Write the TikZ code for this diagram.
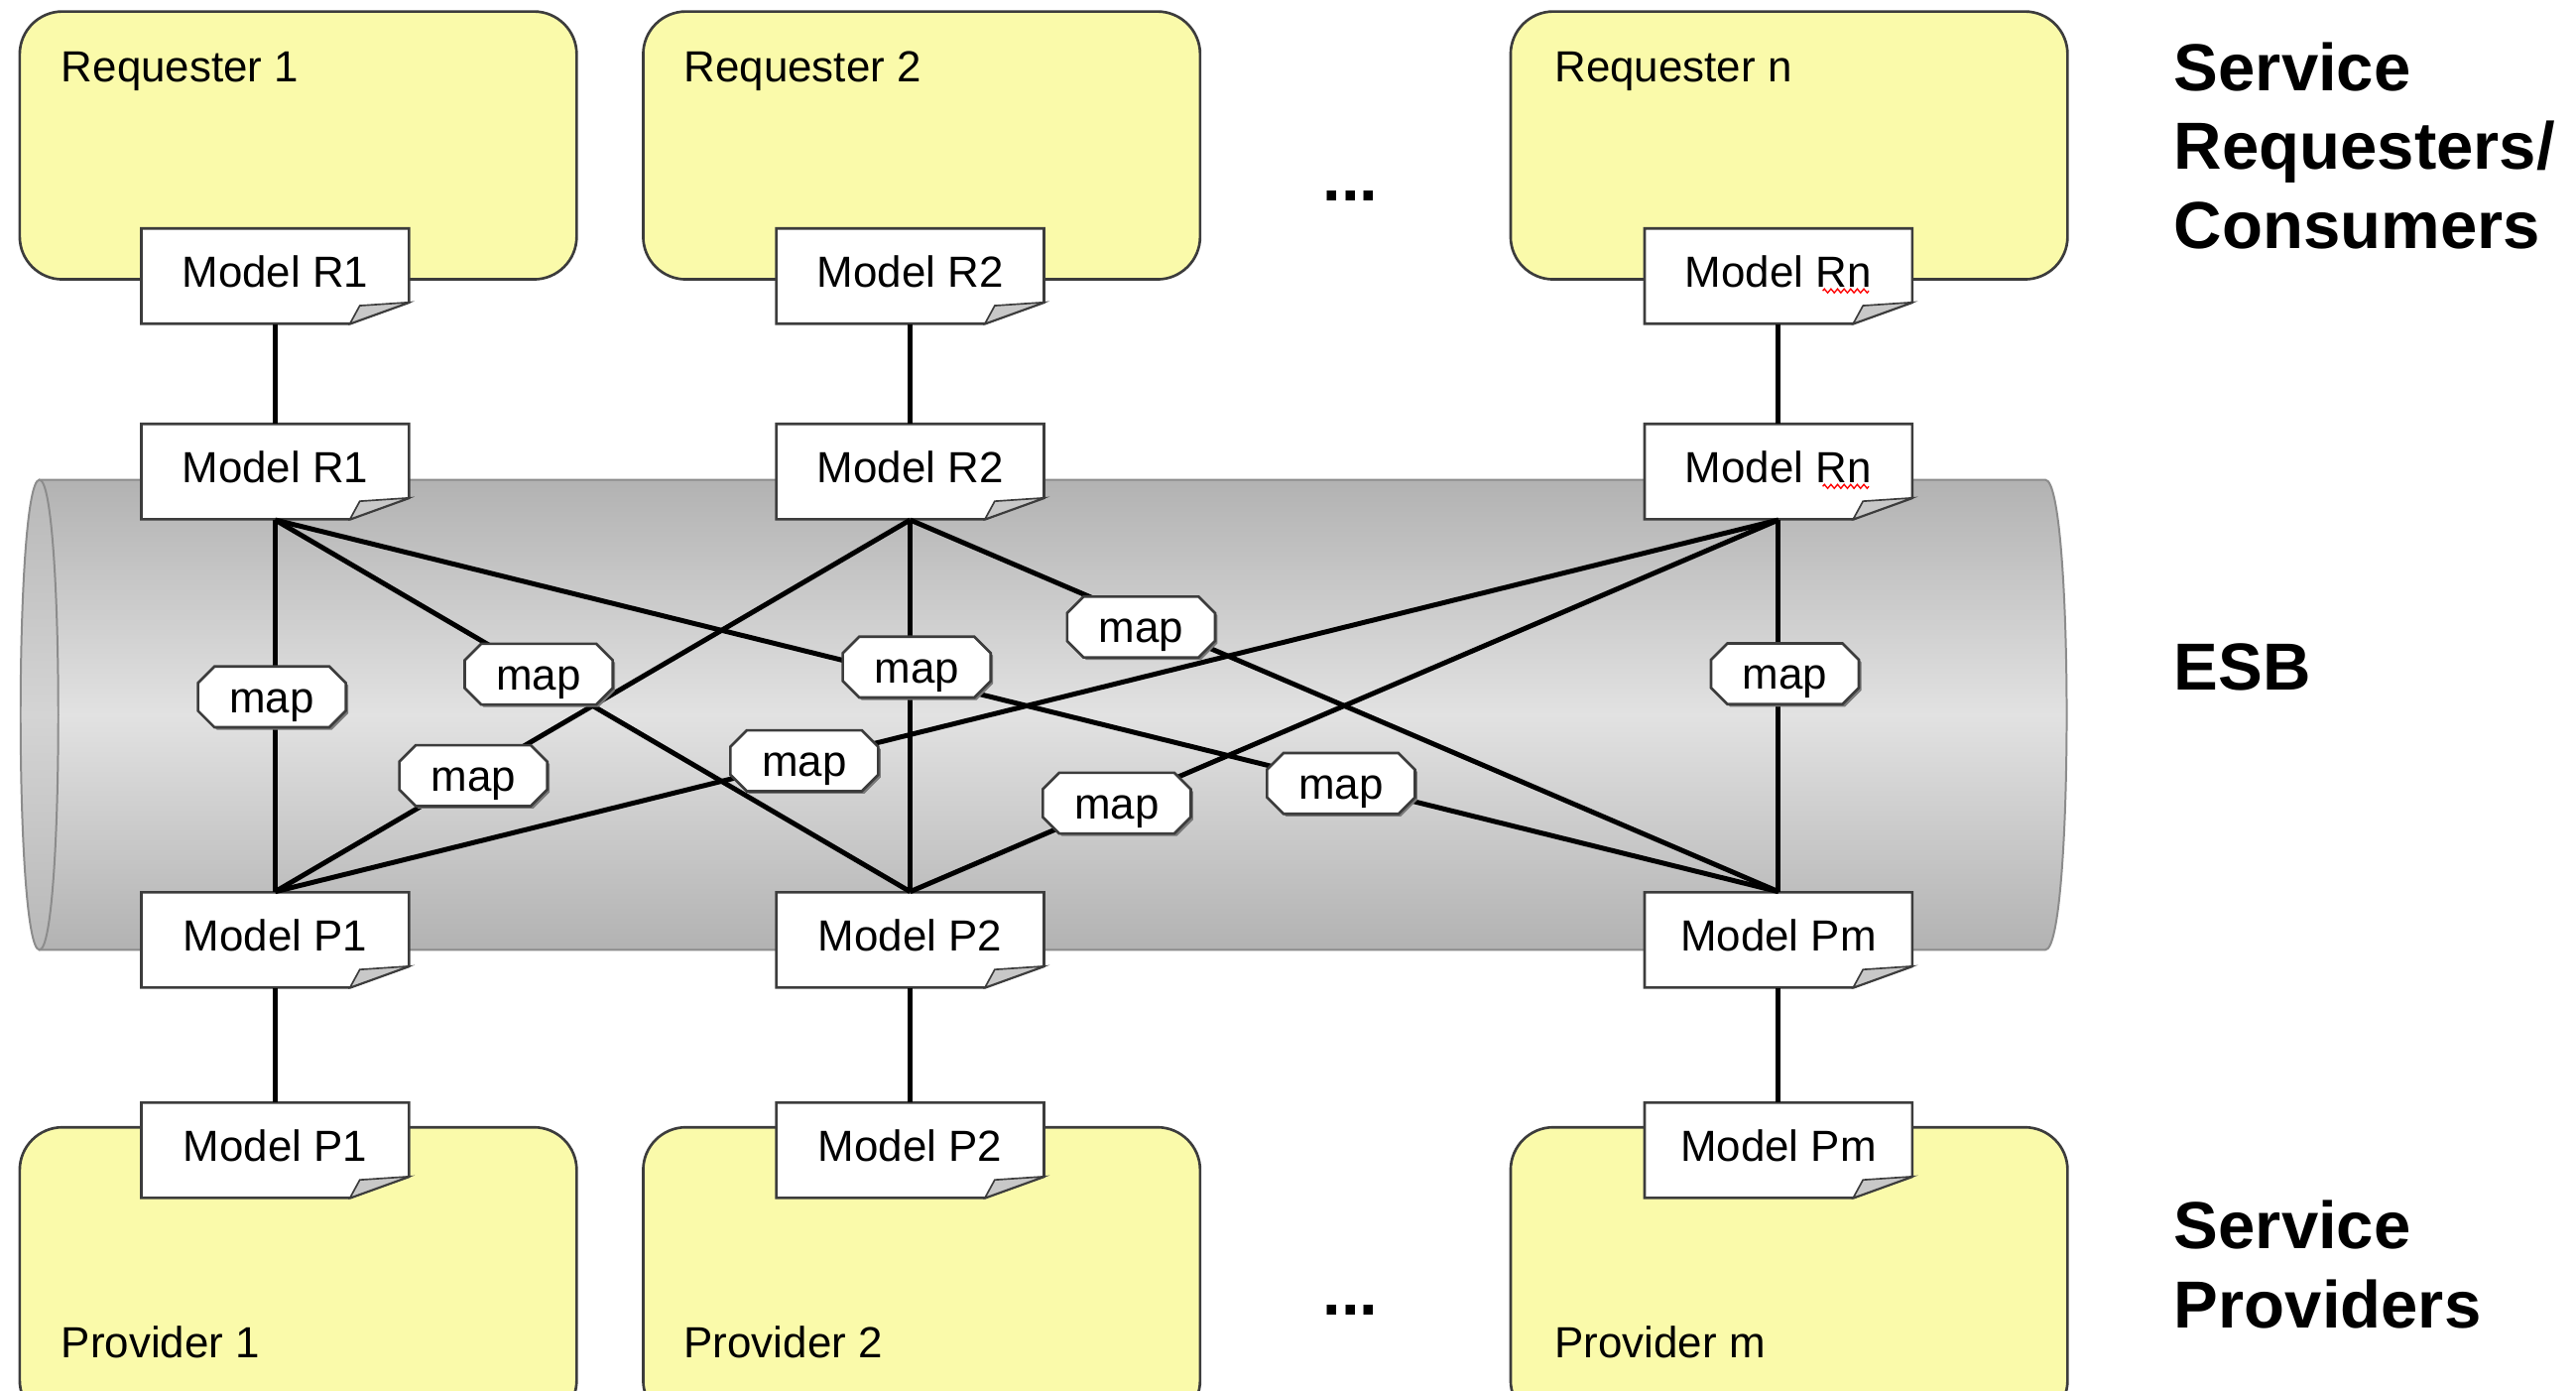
\documentclass[tikz,border=0pt]{standalone}
\usepackage{fontspec}
\setmainfont{Liberation Sans}
\usetikzlibrary{calc,decorations.pathmorphing}
\definecolor{boxyellow}{RGB}{250,250,170}
\definecolor{edgegray}{RGB}{60,60,60}
\definecolor{cyledge}{RGB}{140,140,140}
\definecolor{cyldark}{RGB}{178,178,178}
\definecolor{cyllight}{RGB}{226,226,226}
\definecolor{capdark}{RGB}{184,184,184}
\definecolor{caplight}{RGB}{212,212,212}
\definecolor{foldgray}{RGB}{200,200,200}
\definecolor{shadowgray}{RGB}{120,120,120}
\newcommand{\mainsz}{\fontsize{13.25pt}{16pt}\selectfont}
\newcommand{\bigsz}{\fontsize{20.25pt}{24pt}\selectfont\bfseries}
\newcommand{\ModelNote}[3]{%
  \filldraw[noteline] ($(#2)+(-81.5,-29)$) -- ($(#2)+(81.5,-29)$) -- ($(#2)+(81.5,16)$) -- ($(#2)+(45.5,29)$) -- ($(#2)+(-81.5,29)$) -- cycle;
  \filldraw[foldline] ($(#2)+(45.5,29)$) -- ($(#2)+(81.5,16)$) -- ($(#2)+(51.5,18)$) -- cycle;
  \node[notebox] (#1) at (#2) {#3};%
}
% name, centre
\newcommand{\MapNode}[2]{%
  \coordinate (#1c) at #2;
  \fill[shadowgray] ($(#1c)+(-43.5,-7)$) -- ($(#1c)+(-33.5,-17)$) -- ($(#1c)+(36.5,-17)$) -- ($(#1c)+(46.5,-7)$) -- ($(#1c)+(46.5,10)$) -- ($(#1c)+(36.5,20)$) -- ($(#1c)+(-33.5,20)$) -- ($(#1c)+(-43.5,10)$) -- cycle;
  \filldraw[mapline] ($(#1c)+(-45,-8.5)$) -- ($(#1c)+(-35,-18.5)$) -- ($(#1c)+(35,-18.5)$) -- ($(#1c)+(45,-8.5)$) -- ($(#1c)+(45,8.5)$) -- ($(#1c)+(35,18.5)$) -- ($(#1c)+(-35,18.5)$) -- ($(#1c)+(-45,8.5)$) -- cycle;
  \node[maptext] (#1) at (#1c) {map};%
}
\begin{document}
\begin{tikzpicture}[x=0.5pt,y=-0.5pt,
  ybox/.style={draw=edgegray, line width=0.8pt, fill=boxyellow, rounded corners=13pt, minimum width=169.5pt, inner sep=0pt},
  notebox/.style={minimum width=81.5pt, minimum height=29pt, inner sep=0pt, font=\mainsz, text height=9.5pt, text depth=3pt},
  noteline/.style={draw=edgegray, line width=0.8pt, fill=white},
  foldline/.style={draw=edgegray, line width=0.5pt, fill=foldgray},
  mapline/.style={draw=edgegray, line width=0.8pt, fill=white},
  maptext/.style={inner sep=0pt, font=\mainsz, text height=9.5pt, text depth=0pt},
  conn/.style={line width=1.5pt, black},
  boxtext/.style={anchor=base west, font=\mainsz, inner sep=0pt},
  sidetext/.style={anchor=base west, font=\bigsz, inner sep=0pt},
  squiggle/.style={red, line width=0.4pt, decorate, decoration={zigzag, segment length=2pt, amplitude=0.6pt}}]

\useasboundingbox (0,0) rectangle (1568,846);
\clip (0,0) rectangle (1568,846);

% ESB cylinder
\filldraw[draw=cyledge, line width=0.6pt, top color=cyldark, bottom color=cyldark, middle color=cyllight]
  (24,292) -- (1245,292) .. controls (1262.3,292) and (1262.3,578) .. (1245,578) -- (24,578) -- cycle;
\filldraw[draw=cyledge, line width=0.6pt, top color=capdark, bottom color=capdark, middle color=caplight]
  (24,292) .. controls (8.7,292) and (8.7,578) .. (24,578) .. controls (39.3,578) and (39.3,292) .. (24,292) -- cycle;

% requester / provider boxes
\node[ybox, minimum height=81.5pt] (req1) at (181.5,88.5) {};
\node[ybox, minimum height=81.5pt] (req2) at (561,88.5) {};
\node[ybox, minimum height=81.5pt] (reqn) at (1089,88.5) {};
\node[ybox, minimum height=90pt] (prov1) at (181.5,776) {};
\node[ybox, minimum height=90pt] (prov2) at (561,776) {};
\node[ybox, minimum height=90pt] (provm) at (1089,776) {};

\node[boxtext] (req1t) at (37,50) {Requester 1};
\node[boxtext] (req2t) at (416,50) {Requester 2};
\node[boxtext] (reqnt) at (946,50) {Requester n};
\node[boxtext] (prov1t) at (37,826) {Provider 1};
\node[boxtext] (prov2t) at (416,826) {Provider 2};
\node[boxtext] (provmt) at (946,826) {Provider m};

% model notes
\ModelNote{r1a}{167.5,168}{Model R1}
\ModelNote{r2a}{554,168}{Model R2}
\ModelNote{rna}{1082.5,168}{Model Rn}
\ModelNote{r1b}{167.5,287}{Model R1}
\ModelNote{r2b}{554,287}{Model R2}
\ModelNote{rnb}{1082.5,287}{Model Rn}
\ModelNote{p1a}{167.5,572}{Model P1}
\ModelNote{p2a}{554,572}{Model P2}
\ModelNote{pma}{1082.5,572}{Model Pm}
\ModelNote{p1b}{167.5,700}{Model P1}
\ModelNote{p2b}{554,700}{Model P2}
\ModelNote{pmb}{1082.5,700}{Model Pm}

\draw[squiggle] ($(rna.center)+(27,9)$) -- ($(rna.center)+(55,9)$);
\draw[squiggle] ($(rnb.center)+(27,9)$) -- ($(rnb.center)+(55,9)$);

% connectors
\draw[conn] (r1a.south) -- (r1b.north);
\draw[conn] (r2a.south) -- (r2b.north);
\draw[conn] (rna.south) -- (rnb.north);
\draw[conn] (p1a.south) -- (p1b.north);
\draw[conn] (p2a.south) -- (p2b.north);
\draw[conn] (pma.south) -- (pmb.north);

\draw[conn] (r1b.south) -- (p1a.north);
\draw[conn] (r1b.south) -- (p2a.north);
\draw[conn] (r1b.south) -- (pma.north);
\draw[conn] (r2b.south) -- (p1a.north);
\draw[conn] (r2b.south) -- (p2a.north);
\draw[conn] (r2b.south) -- (pma.north);
\draw[conn] (rnb.south) -- (p1a.north);
\draw[conn] (rnb.south) -- (p2a.north);
\draw[conn] (rnb.south) -- (pma.north);

% map nodes
\MapNode{m11}{($(r1b.south)!0.476!(p1a.north)+(-2,0)$)}
\MapNode{m12}{($(r1b.south)!0.415!(p2a.north)$)}
\MapNode{m1m}{($(r1b.south)!0.709!(pma.north)$)}
\MapNode{m21}{($(r2b.south)!0.688!(p1a.north)$)}
\MapNode{m22}{($(r2b.south)!0.396!(p2a.north)+(4,0)$)}
\MapNode{m2m}{($(r2b.south)!0.266!(pma.north)+(0,5)$)}
\MapNode{mn1}{($(rnb.south)!0.648!(p1a.north)$)}
\MapNode{mn2}{($(rnb.south)!0.762!(p2a.north)$)}
\MapNode{mnm}{($(rnb.south)!0.414!(pma.north)+(4,0)$)}

% ellipses
\node[font=\bigsz, anchor=base, inner sep=0pt] (dotsr) at (822,122) {...};
\node[font=\bigsz, anchor=base, inner sep=0pt] (dotsp) at (822,800) {...};

% side labels
\node[sidetext] (lab1) at (1323,55) {Service};
\node[sidetext] (lab2) at (1323,103) {Requesters/};
\node[sidetext] (lab3) at (1323,151) {Consumers};
\node[sidetext] (lab4) at (1323,420) {ESB};
\node[sidetext] (lab5) at (1323,760) {Service};
\node[sidetext] (lab6) at (1323,808) {Providers};
\end{tikzpicture}
\end{document}
